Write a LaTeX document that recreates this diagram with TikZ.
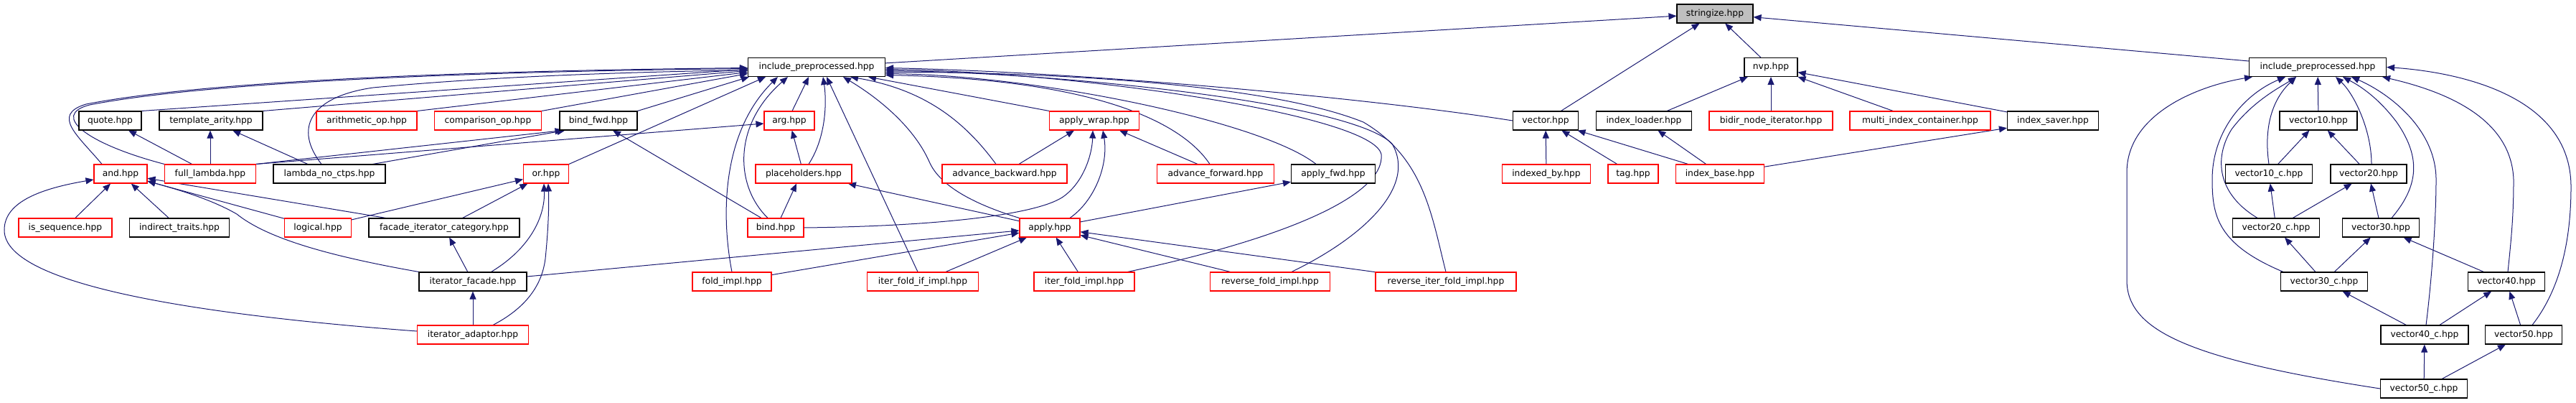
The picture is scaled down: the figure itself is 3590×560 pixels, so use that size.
\documentclass[tikz,border=0pt]{standalone}
\usepackage{fontspec}
\setmainfont{DejaVu Sans}
\usetikzlibrary{arrows.meta,calc}
\definecolor{edgecol}{RGB}{25,25,112}
\definecolor{redb}{RGB}{255,0,0}
\definecolor{grayfill}{RGB}{191,191,191}
\pgfdeclarelayer{bg}
\pgfsetlayers{bg,main}
\begin{document}
\begin{tikzpicture}[x=1pt,y=-1pt,
  bx/.style={draw=black,line width=1.1pt,fill=white,minimum height=26pt,inner xsep=3pt,inner ysep=0pt,
     text height=9.5pt,text depth=3pt,font=\fontsize{12.3}{14}\selectfont},
  bk/.style={bx},
  rd/.style={bx,draw=redb},
  w/.style={minimum width=#1pt},
  e/.style={draw=edgecol,line width=1pt,-{Triangle[length=11pt,width=9pt]}}]
\useasboundingbox (0,0) rectangle (3590,560);
% rank 0/1
\node[bk,w=106,fill=grayfill] (stringize) at (2390,19) {stringize.hpp};
\node[bk,w=191] (incL) at (1138,93.5) {include\_preprocessed.hpp};
\node[bk,w=74] (nvp) at (2468,93.5) {nvp.hpp};
\node[bk,w=191] (incR) at (3230,93.5) {include\_preprocessed.hpp};
% rank 2
\node[bk,w=87] (quote) at (153.5,168) {quote.hpp};
\node[bk,w=144] (tarity) at (294,168) {template\_arity.hpp};
\node[rd,w=140] (arith) at (511,168) {arithmetic\_op.hpp};
\node[rd,w=149] (comp) at (680,168) {comparison\_op.hpp};
\node[bk,w=108] (bindfwd) at (834,168) {bind\_fwd.hpp};
\node[rd,w=70] (arg) at (1100,168) {arg.hpp};
\node[rd,w=125] (applywrap) at (1525,168) {apply\_wrap.hpp};
\node[bk,w=91] (vector) at (2154,168) {vector.hpp};
\node[bk,w=133] (idxloader) at (2291,168) {index\_loader.hpp};
\node[rd,w=172] (bidir) at (2468,168) {bidir\_node\_iterator.hpp};
\node[rd,w=196] (multi) at (2676,168) {multi\_index\_container.hpp};
\node[bk,w=127] (idxsaver) at (2861,168) {index\_saver.hpp};
\node[bk,w=108] (v10) at (3231,168) {vector10.hpp};
% rank 3
\node[rd,w=74] (andh) at (168,242) {and.hpp};
\node[rd,w=127] (fulllambda) at (293,242) {full\_lambda.hpp};
\node[bk,w=156] (lnc) at (459,242) {lambda\_no\_ctps.hpp};
\node[rd,w=63] (orh) at (761,242) {or.hpp};
\node[rd,w=134] (placeholders) at (1120,242) {placeholders.hpp};
\node[rd,w=174] (advback) at (1400,242) {advance\_backward.hpp};
\node[rd,w=163] (advfwd) at (1694,242) {advance\_forward.hpp};
\node[bk,w=117] (applyfwd) at (1858,242) {apply\_fwd.hpp};
\node[rd,w=123] (indexedby) at (2155,242) {indexed\_by.hpp};
\node[rd,w=70] (tag) at (2276,242) {tag.hpp};
\node[rd,w=123] (idxbase) at (2397,242) {index\_base.hpp};
\node[bk,w=121] (v10c) at (3162,242) {vector10\_c.hpp};
\node[bk,w=106] (v20) at (3301,242) {vector20.hpp};
% rank 4
\node[rd,w=130] (isseq) at (91,317) {is\_sequence.hpp};
\node[bk,w=139] (indtraits) at (250,317) {indirect\_traits.hpp};
\node[rd,w=93] (logical) at (443,317) {logical.hpp};
\node[bk,w=210] (facade) at (619,317) {facade\_iterator\_category.hpp};
\node[rd,w=78] (bind) at (1081,317) {bind.hpp};
\node[rd,w=84] (apply) at (1463,317) {apply.hpp};
\node[bk,w=121] (v20c) at (3172,317) {vector20\_c.hpp};
\node[bk,w=107] (v30) at (3318,317) {vector30.hpp};
% rank 5
\node[bk,w=150] (itfacade) at (659,392) {iterator\_facade.hpp};
\node[rd,w=110] (foldimpl) at (1020,392) {fold\_impl.hpp};
\node[rd,w=155] (iffi) at (1286,392) {iter\_fold\_if\_impl.hpp};
\node[rd,w=140] (ifi) at (1511,392) {iter\_fold\_impl.hpp};
\node[rd,w=167] (rfi) at (1770,392) {reverse\_fold\_impl.hpp};
\node[rd,w=196] (rifi) at (2015,392) {reverse\_iter\_fold\_impl.hpp};
\node[bk,w=121] (v30c) at (3239,392) {vector30\_c.hpp};
\node[bk,w=107] (v40) at (3493,392) {vector40.hpp};
% rank 6/7
\node[rd,w=155] (itadaptor) at (659,466) {iterator\_adaptor.hpp};
\node[bk,w=122] (v40c) at (3379,466) {vector40\_c.hpp};
\node[bk,w=107] (v50) at (3517,466) {vector50.hpp};
\node[bk,w=121] (v50c) at (3378,541) {vector50\_c.hpp};

\begin{pgfonlayer}{bg}
% stringize
\draw[e] (incL) -- (stringize);
\draw[e] (vector) -- (stringize);
\draw[e] (nvp) -- (stringize);
\draw[e] (incR) -- (stringize);
% nvp
\draw[e] (idxloader) -- (nvp);
\draw[e] (bidir) -- (nvp);
\draw[e] (multi) -- (nvp);
\draw[e] (idxsaver) -- (nvp);
% vector / index
\draw[e] (indexedby) -- (vector);
\draw[e] (tag) -- (vector);
\draw[e] (idxbase) -- (vector);
\draw[e] (idxbase) -- (idxloader);
\draw[e] (idxbase) -- (idxsaver);
% right cluster
\draw[e] (v10) -- (incR);
\draw[e] (v10c) -- (v10);
\draw[e] (v20) -- (v10);
\draw[e] (v20c) -- (v10c);
\draw[e] (v20c) -- (v20);
\draw[e] (v30) -- (v20);
\draw[e] (v30c) -- (v20c);
\draw[e] (v30c) -- (v30);
\draw[e] (v40) -- (v30);
\draw[e] (v40c) -- (v30c);
\draw[e] (v40c) -- (v40);
\draw[e] (v50) -- (v40);
\draw[e] (v50c) -- (v40c);
\draw[e] (v50c) -- (v50);
\draw[e] (v50c.west) .. controls (3050,500) and (2964,460) .. (2964,390) -- (2964,240) .. controls (2964,160) and (3060,120) .. ($(incR.south west)+(5,0)$);
\draw[e] ($(v30c.north west)+(4,0)$) .. controls (3090,340) and (3083,300) .. (3083,250) .. controls (3083,180) and (3130,130) .. ($(incR.south)+(-45,0)$);
\draw[e] (v10c.north) .. controls (3155,180) and (3165,140) .. ($(incR.south)+(-30,0)$);
\draw[e] ($(v20c.north)+(-26,0)$) .. controls (3090,270) and (3085,220) .. (3110,180) .. controls (3140,140) and (3180,120) .. ($(incR.south)+(-30,0)$);
\draw[e] ($(v20.north)+(4,0)$) .. controls (3305,180) and (3280,130) .. ($(incR.south)+(25,0)$);
\draw[e] ($(v30.north)+(15,0)$) .. controls (3370,260) and (3375,220) .. (3340,170) .. controls (3310,130) and (3280,115) .. ($(incR.south)+(35,0)$);
\draw[e] ($(v40c.north)+(2,0)$) .. controls (3390,380) and (3395,300) .. (3395,250) .. controls (3395,180) and (3330,130) .. ($(incR.south)+(47,0)$);
\draw[e] ($(v40.north)+(2,0)$) .. controls (3500,330) and (3503,300) .. (3503,250) .. controls (3500,170) and (3420,130) .. ($(incR.south east)+(-6,0)$);
\draw[e] ($(v50.north)+(12,0)$) .. controls (3570,400) and (3583,330) .. (3583,260) .. controls (3583,130) and (3420,100) .. (incR.east);
% left cluster into incL
\draw[e] ($(andh.north)+(-26,0)$) .. controls (110,190) and (70,160) .. (120,145) .. controls (300,110) and (700,98) .. ($(incL.west)+(0,1)$);
\draw[e] (fulllambda.north west) .. controls (120,200) and (70,160) .. (125,146) .. controls (300,112) and (700,99) .. ($(incL.west)+(0,2)$);
\draw[e] ($(lnc.north)+(-11,0)$) .. controls (410,180) and (430,135) .. (520,122) .. controls (700,105) and (900,100) .. ($(incL.west)+(0,4)$);
\draw[e] (quote.north east) -- ($(incL.west)+(0,3)$);
\draw[e] (tarity.north east) -- ($(incL.west)+(0,5)$);
\draw[e] (arith.north east) -- ($(incL.west)+(0,7)$);
\draw[e] (comp.north east) -- ($(incL.west)+(0,9)$);
\draw[e] (bindfwd.north east) -- ($(incL.south west)+(2,0)$);
\draw[e] (orh.north east) -- ($(incL.south west)+(25,0)$);
\draw[e] (foldimpl.north) .. controls (1003,290) and (1010,180) .. ($(incL.south west)+(42,0)$);
\draw[e] ($(bind.north)+(-11,0)$) .. controls (1025,260) and (1020,175) .. ($(incL.south west)+(56,0)$);
\draw[e] ($(arg.north)+(4,0)$) -- ($(incL.south)+(-11,0)$);
\draw[e] ($(placeholders.north)+(7,0)$) .. controls (1152,190) and (1152,140) .. ($(incL.south)+(9,0)$);
\draw[e] ($(iffi.north)+(-7,0)$) -- ($(incL.south)+(14,0)$);
\draw[e] (apply.north west) .. controls (1360,285) and (1310,260) .. (1295,225) .. controls (1275,180) and (1230,140) .. ($(incL.south)+(37,0)$);
\draw[e] ($(advback.north)+(-12,0)$) .. controls (1345,170) and (1290,125) .. ($(incL.south)+(47,0)$);
\draw[e] (applywrap.north west) -- ($(incL.south)+(72,0)$);
\draw[e] ($(advfwd.north)+(-8,0)$) .. controls (1640,160) and (1500,110) .. ($(incL.east)+(0,11)$);
\draw[e] ($(applyfwd.north)+(-24,0)$) .. controls (1760,170) and (1450,105) .. ($(incL.east)+(0,9)$);
\draw[e] (vector.west) .. controls (1900,135) and (1500,100) .. ($(incL.east)+(0,1)$);
\draw[e] ($(ifi.north east)+(-10,0)$) .. controls (1800,330) and (1930,270) .. (1925,215) .. controls (1915,160) and (1500,100) .. ($(incL.east)+(0,3)$);
\draw[e] ($(rfi.north)+(30,0)$) .. controls (1900,330) and (1975,260) .. (1940,200) .. controls (1880,140) and (1450,100) .. ($(incL.east)+(0,5)$);
\draw[e] (rifi.north) .. controls (1995,300) and (1985,220) .. (1900,170) .. controls (1750,110) and (1400,100) .. ($(incL.east)+(0,7)$);
% left cluster other
\draw[e] (fulllambda) -- (quote);
\draw[e] ($(fulllambda.north)+(0,0)$) -- ($(tarity.south)+(-1,0)$);
\draw[e] (lnc) -- (tarity);
\draw[e] (fulllambda.north east) -- ($(bindfwd.south west)+(5,0)$);
\draw[e] ($(lnc.north east)+(-18,0)$) -- ($(bindfwd.south west)+(8,0)$);
\draw[e] (fulllambda.north east) -- ($(arg.west)+(0,4)$);
\draw[e] ($(bind.north)+(-20,0)$) -- ($(bindfwd.south)+(20,0)$);
\draw[e] ($(bind.north)+(7,0)$) -- ($(placeholders.south)+(-10,0)$);
\draw[e] (placeholders) -- (arg);
\draw[e] (apply) -- (placeholders);
\draw[e] ($(advback.north)+(20,0)$) -- ($(applywrap.south)+(-28,0)$);
\draw[e] (bind.east) .. controls (1300,315) and (1440,300) .. (1480,275) .. controls (1510,255) and (1522,215) .. ($(applywrap.south)+(-2,0)$);
\draw[e] ($(apply.north)+(28,0)$) .. controls (1525,280) and (1545,230) .. ($(applywrap.south)+(12,0)$);
\draw[e] ($(advfwd.north)+(-25,0)$) -- ($(applywrap.south east)+(-28,0)$);
\draw[e] (apply) -- (applyfwd);
\draw[e] (itfacade) -- (apply);
\draw[e] (foldimpl) -- (apply);
\draw[e] (iffi) -- (apply);
\draw[e] (ifi) -- (apply);
\draw[e] (rfi) -- (apply);
\draw[e] (rifi) -- (apply);
% and / or
\draw[e] (isseq) -- (andh);
\draw[e] (indtraits) -- (andh);
\draw[e] (logical) -- (andh);
\draw[e] (facade) -- (andh);
\draw[e] (itfacade.north west) .. controls (450,355) and (370,330) .. (330,298) .. controls (290,275) and (240,262) .. ($(andh.east)+(0,10)$);
\draw[e] ($(itadaptor.west)+(0,-5)$) .. controls (300,440) and (5,400) .. (6,320) .. controls (6,280) and (60,262) .. ($(andh.west)+(0,8)$);
\draw[e] (logical) -- (orh);
\draw[e] (facade) -- (orh);
\draw[e] ($(itfacade.north east)+(-50,0)$) .. controls (740,345) and (760,300) .. ($(orh.south)+(-3,0)$);
\draw[e] ($(itadaptor.north east)+(-50,0)$) .. controls (730,430) and (755,400) .. (760,360) .. controls (765,310) and (765,280) .. ($(orh.south)+(3,0)$);
\draw[e] (itfacade) -- (facade);
\draw[e] (itadaptor) -- (itfacade);
\end{pgfonlayer}
\end{tikzpicture}
\end{document}
